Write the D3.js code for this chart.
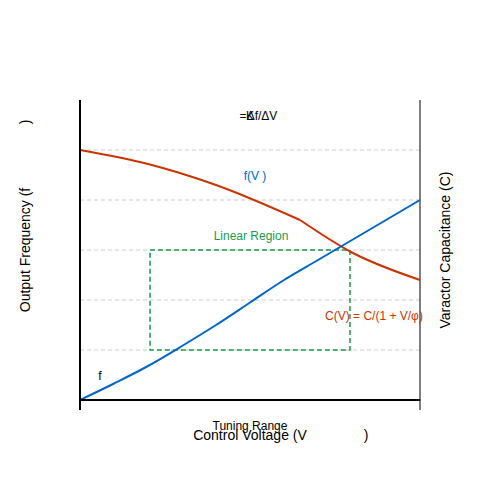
<!DOCTYPE html>
<html><head><meta charset="utf-8">
<script src="https://cdn.jsdelivr.net/npm/d3@7"></script>
<style>body{margin:0;background:#fff}text{font-family:"Liberation Sans",Arial,sans-serif}</style>
</head><body><svg id="c" width="500" height="500"></svg>
<script>
// voltage samples and curve values
var volts = [0, 1, 2, 3, 4, 5, 6, 7, 8, 9, 10];
var freq  = [0, 0.33, 0.68, 1.08, 1.5, 1.95, 2.4, 2.8, 3.2, 3.6, 4.0];
var capV1 = [0, 2, 4, 6.47];
var cap1  = [5, 4.72, 4.3, 3.6];
var capV2 = [6.47, 8, 10];
var cap2  = [3.6, 2.95, 2.4];
var grid  = [1, 2, 3, 4, 5];
var region = { x0: 2.06, x1: 7.94, y0: 1, y1: 3 };

var svg = d3.select("#c");
var x = d3.scaleLinear().domain([0, 10]).range([80, 420]);
var y = d3.scaleLinear().domain([0, 6]).range([400, 100]);

svg.selectAll(".g").data(grid).enter().append("line")
  .attr("x1", 80).attr("x2", 420).attr("y1", d => y(d)).attr("y2", d => y(d))
  .attr("stroke", "#ccc").attr("stroke-dasharray", "4,3");

svg.append("rect").attr("x", x(region.x0)).attr("y", y(region.y1))
  .attr("width", x(region.x1) - x(region.x0)).attr("height", y(region.y0) - y(region.y1))
  .attr("fill", "none").attr("stroke", "#1a9a4a").attr("stroke-width", 1.5).attr("stroke-dasharray", "5,3");

var line = d3.line().x(d => x(d[0])).y(d => y(d[1])).curve(d3.curveMonotoneX);
svg.append("path").datum(d3.zip(capV1, cap1)).attr("d", line)
  .attr("fill", "none").attr("stroke", "#cc3300").attr("stroke-width", 2);
svg.append("path").datum(d3.zip(capV2, cap2)).attr("d", line)
  .attr("fill", "none").attr("stroke", "#cc3300").attr("stroke-width", 2);
svg.append("path").datum(d3.zip(volts, freq)).attr("d", line)
  .attr("fill", "none").attr("stroke", "#0066cc").attr("stroke-width", 2);

svg.append("line").attr("x1", 80).attr("x2", 80).attr("y1", 100).attr("y2", 410).attr("stroke", "#000").attr("stroke-width", 2);
svg.append("line").attr("x1", 420).attr("x2", 420).attr("y1", 100).attr("y2", 410).attr("stroke", "#555").attr("stroke-width", 1.5);
svg.append("line").attr("x1", 80).attr("x2", 420).attr("y1", 400).attr("y2", 400).attr("stroke", "#000").attr("stroke-width", 2);

function t(s, px, py, size, col, anchor) {
  return svg.append("text").attr("x", px).attr("y", py).attr("font-size", size)
    .attr("fill", col || "#000").attr("text-anchor", anchor || "middle").text(s);
}
t("=", 243, 120, 12);
t("K", 250, 120, 12);
t("Δf/ΔV", 262, 120, 12);
t("f(V )", 255, 180, 12, "#0066cc");
t("Linear Region", 251, 240, 12, "#1a9a4a");
t("C(V) = C/(1 + V/φ)", 374, 320, 12, "#cc3300");
t("f", 100, 380, 12);
t("Tuning Range", 250, 430, 12);
t("Control Voltage (V", 250, 440, 14);
t(")", 366, 440, 14);
t("Output Frequency (f", 30, 250, 14).attr("transform", "rotate(-90,30,250)");
t(")", 30, 122, 14).attr("transform", "rotate(-90,30,122)");
t("Varactor Capacitance (C)", 450, 250, 14).attr("transform", "rotate(-90,450,250)");
</script></body></html>
